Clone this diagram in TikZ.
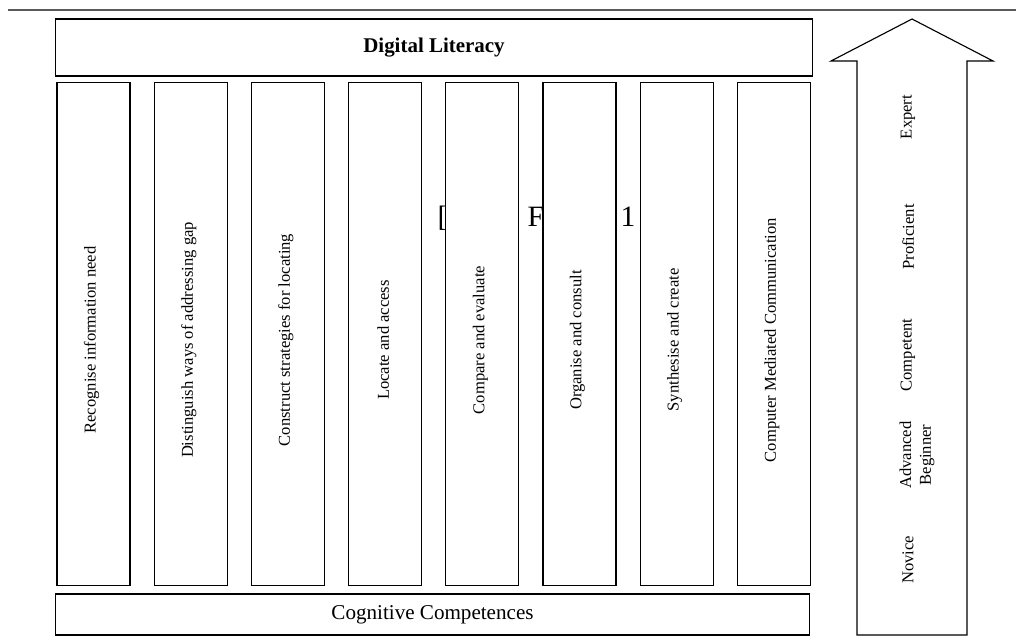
\documentclass[tikz,border=0pt]{standalone}
\usepackage{fontspec}
\setmainfont{Liberation Serif}

\begin{document}
\begin{tikzpicture}[x=0.025cm,y=-0.025cm,line width=0.8pt,
colbox/.style={draw,fill=white,minimum width=1.825cm,minimum height=12.55cm,inner sep=0pt},
vlabel/.style={rotate=90,inner sep=0pt,align=center,font=\fontsize{11.8}{14}\selectfont}
]
\useasboundingbox (0,0) rectangle (1016,638);
\draw[line width=1.2pt,color=gray!70!black] (8,10) -- (1016,10);
% placeholder text, mostly hidden by the columns
\begin{scope}[every node/.style={anchor=base west,inner sep=0pt,font=\fontsize{21}{21}\selectfont}]
\node (ph1) at (437,226) {[};
\node (ph2) at (527,226) {F};
\node (ph3) at (620,226) {1};
\end{scope}
\node[draw,minimum width=18.9cm,minimum height=1.425cm,font=\bfseries\fontsize{14.9}{16}\selectfont] (lit) at (434,47.5) {Digital Literacy};
\foreach \i/\txt in {1/Recognise information need,2/Distinguish ways of addressing gap,
3/Construct strategies for locating,4/Locate and access,5/Compare and evaluate,
6/Organise and consult,7/Synthesise and create,8/Computer Mediated Communication}{
\node[colbox] (col\i) at ({93.5+97.2*(\i-1)},334) {};
\node[vlabel] (lab\i) at ({91.5+97.2*(\i-1)},340) {\txt};
}
\node[draw,minimum width=18.825cm,minimum height=1.025cm,font=\fontsize{15}{16}\selectfont] (cog) at (432.5,614.5) {Cognitive Competences};
% level arrow
\draw (857,635) -- (857,61) -- (831,61) -- (912,19) -- (993,61) -- (967,61) -- (967,635) -- cycle;
\node[vlabel] (expert) at (908,117) {Expert};
\node[vlabel] (proficient) at (908,237) {Proficient};
\node[vlabel] (competent) at (908,355) {Competent};
\node[vlabel] (advanced) at (917,455) {Advanced\\Beginner};
\node[vlabel] (novice) at (908,560) {Novice};
\end{tikzpicture}
\end{document}
